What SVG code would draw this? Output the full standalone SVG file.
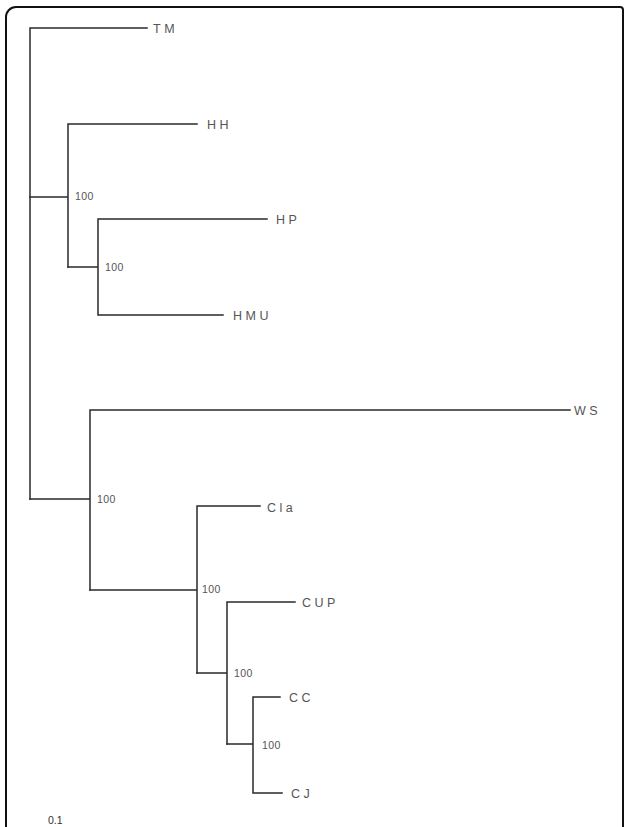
<svg xmlns="http://www.w3.org/2000/svg" width="624" height="827" viewBox="0 0 624 827">
<style>
.frame{fill:none;stroke:#111;stroke-width:2}
.br{fill:none;stroke:#2a2a2a;stroke-width:1.5;stroke-linecap:square}
.lab{font-family:"Liberation Sans",Arial,sans-serif;font-size:12.5px;letter-spacing:3.5px;fill:#555}
.bs{font-family:"Liberation Sans",Arial,sans-serif;font-size:10.5px;letter-spacing:0.4px;fill:#555}
.sc{font-family:"Liberation Sans",Arial,sans-serif;font-size:10.5px;fill:#333}
</style>
<rect width="624" height="827" fill="#fff"/>
<path class="frame" d="M6,830 V17 A10,10 0 0 1 16,7 H620 A3,3 0 0 1 623,10 V830"/>
<g id="connectors">
<path class="br" d="M30,28 H147 M30,28 V499"/>
<path class="br" d="M30,197 H68 M68,124 V267 M68,124 H197"/>
<path class="br" d="M68,267 H98 M98,219 V315 M98,219 H267 M98,315 H223"/>
<path class="br" d="M30,499 H90 M90,410 V590 M90,410 H570"/>
<path class="br" d="M90,590 H197 M197,506 V673 M197,506 H260"/>
<path class="br" d="M197,673 H227 M227,602 V744 M227,602 H295"/>
<path class="br" d="M227,744 H253 M253,697 V793 M253,697 H280 M253,793 H282"/>
</g>
<g id="node-TM"><text class="lab" x="153" y="33">TM</text></g>
<g id="node-HH"><text class="lab" x="207" y="128.5">HH</text></g>
<g id="node-HP"><text class="lab" x="276" y="223.5">HP</text></g>
<g id="node-HMU"><text class="lab" x="233" y="319.5">HMU</text></g>
<g id="node-WS"><text class="lab" x="574" y="415">WS</text></g>
<g id="node-Cla"><text class="lab" x="267" y="512">Cla</text></g>
<g id="node-CUP"><text class="lab" x="302" y="607">CUP</text></g>
<g id="node-CC"><text class="lab" x="289" y="701.5">CC</text></g>
<g id="node-CJ"><text class="lab" x="291" y="797.5">CJ</text></g>
<g id="bootstrap">
<text class="bs" x="75" y="200">100</text>
<text class="bs" x="105" y="271">100</text>
<text class="bs" x="97" y="503">100</text>
<text class="bs" x="202" y="593">100</text>
<text class="bs" x="234" y="677">100</text>
<text class="bs" x="262" y="749">100</text>
</g>
<g id="scale"><text class="sc" x="48" y="824">0.1</text></g>
</svg>
